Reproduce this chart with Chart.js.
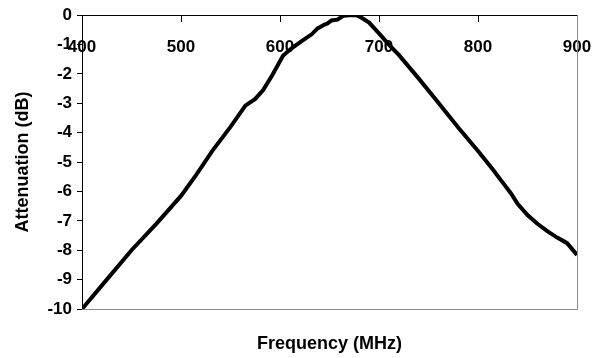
<!DOCTYPE html>
<html>
<head>
<meta charset="utf-8">
<script src="https://cdn.jsdelivr.net/npm/chart.js@4/dist/chart.umd.min.js"></script>
<style>
  html, body { margin: 0; padding: 0; background: #fff; }
  #wrap { width: 605px; height: 358px; }
</style>
</head>
<body>
<div id="wrap"><canvas id="chart"></canvas></div>
<script>
// filter response
const freqMHz = [400, 425, 450, 475, 500, 515, 532, 550, 565, 575, 583, 592, 603, 612, 623, 632, 638, 645, 648, 652, 658, 664, 670, 677, 682, 690, 700, 710, 720, 740, 760, 780, 800, 815, 825, 833, 840, 850, 860, 870, 880, 890, 900];
const attenDb = [-10, -9.0, -8.0, -7.1, -6.15, -5.45, -4.6, -3.8, -3.08, -2.85, -2.55, -2.05, -1.38, -1.12, -0.86, -0.65, -0.45, -0.32, -0.28, -0.18, -0.15, -0.02, 0, 0, -0.08, -0.25, -0.62, -1.0, -1.35, -2.15, -2.98, -3.82, -4.62, -5.25, -5.7, -6.05, -6.42, -6.8, -7.1, -7.35, -7.57, -7.76, -8.16];

const xTitle = 'Frequency (MHz)';
const yTitle = 'Attenuation (dB)';

Chart.defaults.font.family = 'Arial, "Liberation Sans", sans-serif';
Chart.defaults.font.weight = 'bold';
Chart.defaults.color = '#000';

// grey frame on the right and bottom edges of the plot
const frame = {
  id: 'frame',
  beforeDatasetsDraw(chart) {
    const { ctx, chartArea: a } = chart;
    ctx.save();
    ctx.strokeStyle = '#8c8c8c';
    ctx.lineWidth = 1;
    ctx.beginPath();
    ctx.moveTo(a.left, a.bottom + 0.5);
    ctx.lineTo(a.right + 0.5, a.bottom + 0.5);
    ctx.lineTo(a.right + 0.5, a.top);
    ctx.stroke();
    ctx.restore();
  }
};

new Chart(document.getElementById('chart'), {
  type: 'line',
  data: {
    datasets: [{
      data: freqMHz.map((f, i) => ({ x: f, y: attenDb[i] })),
      borderColor: '#000',
      borderWidth: 4,
      pointRadius: 0,
      tension: 0,
      clip: 0
    }]
  },
  options: {
    responsive: true,
    maintainAspectRatio: false,
    animation: false,
    layout: { padding: { top: 15, right: 28, left: 0, bottom: 0 } },
    plugins: { legend: { display: false }, tooltip: { enabled: false } },
    scales: {
      x: {
        type: 'linear',
        position: { y: 0 },
        min: 400,
        max: 900,
        ticks: { stepSize: 100, font: { size: 17 }, padding: 16, maxRotation: 0 },
        grid: { drawOnChartArea: false, tickLength: 6, color: '#000' },
        border: { color: '#000', width: 1 },
        // end labels may hang past the plot edges
        afterFit(scale) { scale.paddingLeft = 0; scale.paddingRight = 0; }
      },
      x2: {
        type: 'linear',
        position: 'bottom',
        min: 400,
        max: 900,
        ticks: { display: false },
        grid: { display: false },
        border: { display: false },
        title: { display: true, text: xTitle, font: { size: 18 }, padding: { top: 0, bottom: 3 } },
        afterFit(scale) { scale.height = 49; }
      },
      y: {
        min: -10,
        max: 0,
        ticks: { stepSize: 1, font: { size: 17 }, padding: 5 },
        grid: { drawOnChartArea: false, tickLength: 5, color: '#000' },
        border: { color: '#000', width: 1 },
        title: { display: true, text: yTitle, font: { size: 18 }, padding: { top: 12, bottom: 0 } },
        afterFit(scale) { scale.width = 82; }
      }
    }
  },
  plugins: [frame]
});
</script>
</body>
</html>
